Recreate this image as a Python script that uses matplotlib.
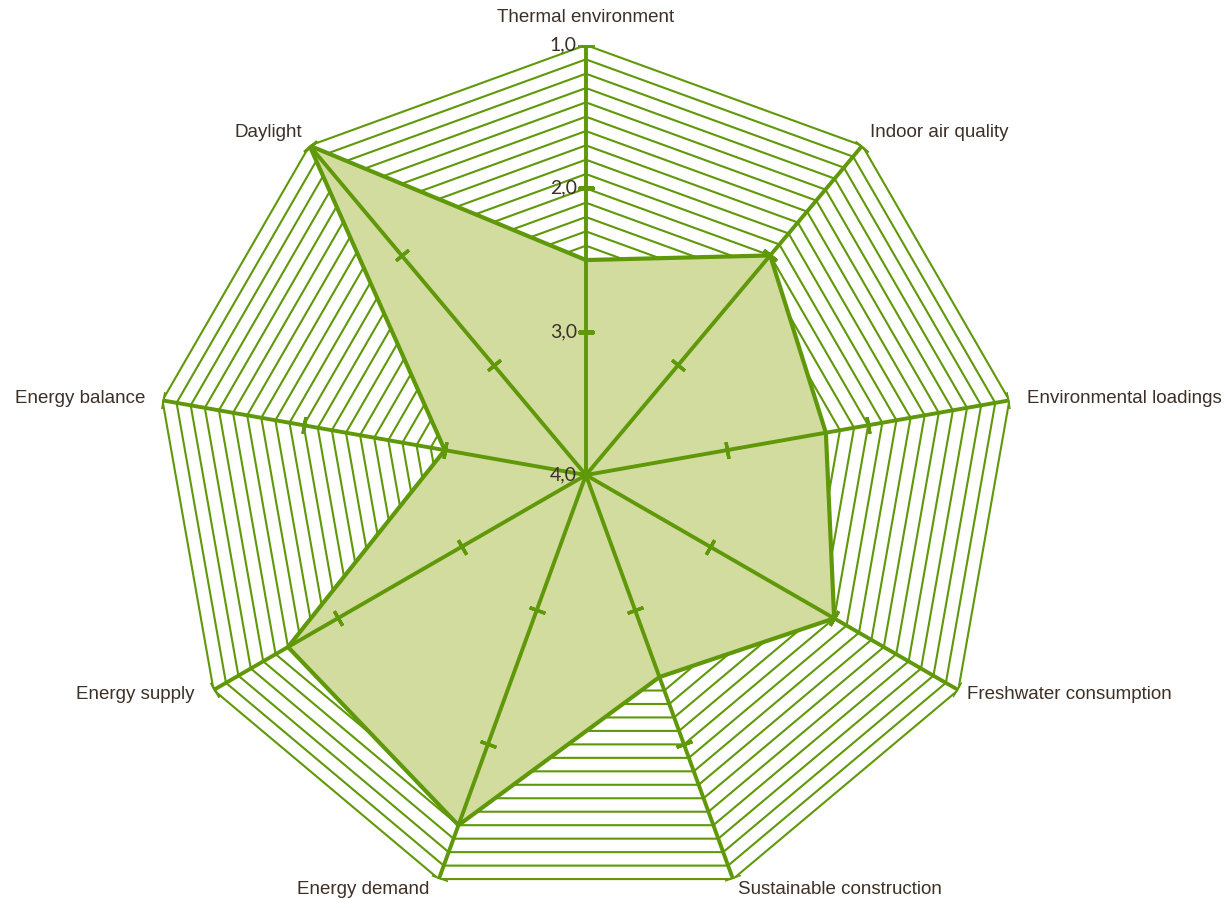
import numpy as np
import matplotlib
matplotlib.use("Agg")
import matplotlib.pyplot as plt

# data
categories = ['Thermal environment', 'Indoor air quality', 'Environmental loadings',
              'Freshwater consumption', 'Sustainable construction', 'Energy demand',
              'Energy supply', 'Energy balance', 'Daylight']
scores = [2.5, 2.0, 2.3, 2.0, 2.5, 1.4, 1.6, 3.0, 1.0]
r_ticks = [1.0, 2.0, 3.0, 4.0]
r_tick_labels = ['1,0', '2,0', '3,0', '4,0']
grid_levels = np.round(np.arange(1.0, 4.0, 0.1), 1)

# label offsets in pixels (dx, dy, ha)
label_offsets = [(0, 28, 'center'), (8, 13, 'left'), (18, 2, 'left'),
                 (9, -4, 'left'), (5, -10, 'left'), (-9, -10, 'right'),
                 (-19, -4, 'right'), (-17, 2, 'right'), (-7, 13, 'right')]

line_col = '#5f9808'
fill_col = '#d2dc9f'
text_col = '#3d3026'

n = len(categories)
theta = np.linspace(0, 2 * np.pi, n, endpoint=False)
theta_c = np.append(theta, theta[0])

fig = plt.figure(figsize=(12.25, 9.08), dpi=100)
ax = fig.add_axes([0.1273, 0.0033, 0.7020, 0.9471], projection='polar')
ax.set_theta_zero_location('N')
ax.set_theta_direction(-1)
ax.set_ylim(4, 1)
ax.grid(False)
ax.spines['polar'].set_visible(False)
ax.set_xticks([])
ax.set_yticks([])
ax.patch.set_alpha(0)

# nonagon gridlines
for lv in grid_levels:
    ax.plot(theta_c, [lv] * (n + 1), color=line_col, lw=1.5, zorder=1)

# data area
sc = scores + scores[:1]
ax.fill(theta_c, sc, color=fill_col, zorder=2, lw=0)

# spokes
for t in theta:
    ax.plot([t, t], [4, 1], color=line_col, lw=2.8, zorder=3, solid_capstyle='butt')
    ang = 90 - np.degrees(t)
    ax.plot([t] * 3, r_ticks[:3], ls='none', marker=(2, 2, ang), ms=12,
            mew=2.4, color=line_col, zorder=3)

ax.plot(theta_c, sc, color=line_col, lw=3.0, zorder=4, solid_joinstyle='miter')

# radial labels
for r, lab in zip(r_ticks, r_tick_labels):
    ax.annotate(lab, xy=(0, r), xytext=(-9, 0), textcoords='offset pixels',
                ha='right', va='center', fontsize=14, color=text_col,
                family=['Lato', 'DejaVu Sans'], zorder=5)

# category labels
for t, lab, (dx, dy, ha) in zip(theta, categories, label_offsets):
    ax.annotate(lab, xy=(t, 1), xytext=(dx, dy), textcoords='offset pixels',
                ha=ha, va='center', fontsize=13.5, color=text_col,
                family=['Liberation Sans', 'DejaVu Sans'], annotation_clip=False)

fig.savefig('out.png', dpi=100)
